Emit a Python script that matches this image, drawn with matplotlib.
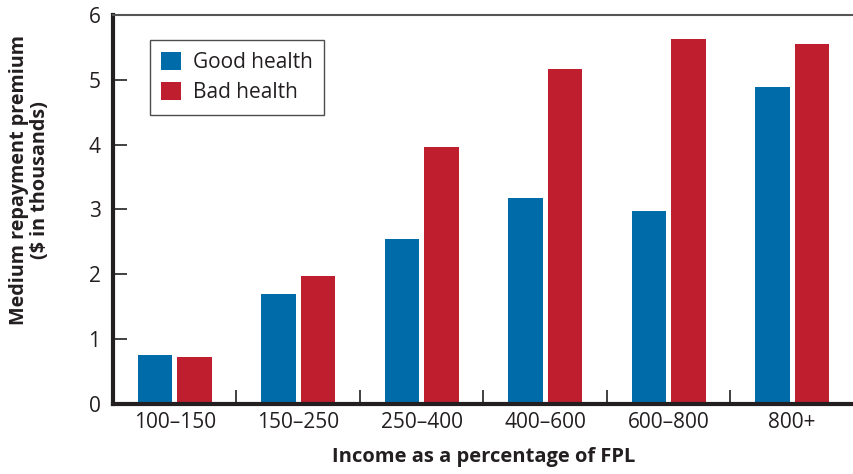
import numpy as np
import matplotlib
matplotlib.use("Agg")
import matplotlib.pyplot as plt
from matplotlib.ticker import FixedLocator

plt.rcParams['font.family'] = ['Open Sans', 'DejaVu Sans']

categories = ["100–150", "150–250", "250–400", "400–600", "600–800", "800+"]
good_health = [0.76, 1.70, 2.55, 3.18, 2.98, 4.89]
bad_health = [0.73, 1.98, 3.97, 5.17, 5.63, 5.56]

blue = "#006ba9"
red = "#be1e2d"
ink = "#231f20"

fig = plt.figure(figsize=(8.54, 4.74), dpi=100)
ax = fig.add_axes([0.1323, 0.1477, 0.8677, 0.8207])

x = np.arange(len(categories))
w = 0.28
ax.bar(x - 0.16, good_health, width=w, color=blue, label="Good health")
ax.bar(x + 0.16, bad_health, width=w, color=red, label="Bad health")

ax.set_xlim(-0.5, len(categories) - 0.5)
ax.set_ylim(0, 6)
ax.set_yticks(range(7))
ax.set_xticks(x)
ax.set_xticklabels(categories, fontsize=15, color=ink)
ax.tick_params(axis="x", length=0, pad=6)
ax.xaxis.set_minor_locator(FixedLocator(np.arange(0.5, len(categories) - 0.5, 1)))
ax.tick_params(axis="x", which="minor", direction="in", length=10, width=1.2, color=ink)
ax.tick_params(axis="y", direction="in", length=10, width=1.2, color=ink,
               labelsize=15, labelcolor=ink, pad=9)

for side in ("left", "bottom"):
    ax.spines[side].set_linewidth(3)
    ax.spines[side].set_color(ink)
ax.spines["top"].set_linewidth(1.5)
ax.spines["top"].set_color("#555555")
ax.spines["right"].set_visible(False)

ax.set_xlabel("Income as a percentage of FPL", fontsize=14.5, fontweight="bold",
              color=ink, labelpad=10)
ax.set_ylabel("Medium repayment premium\n($ in thousands)", fontsize=14.2,
              fontweight="bold", color=ink, linespacing=1.05)
# label sits a little above the middle of the axis
ax.yaxis.set_label_coords(-0.085, 0.575)

leg = ax.legend(loc="upper left", bbox_to_anchor=(0.05, 0.935), fontsize=15,
                frameon=True, fancybox=False, handlelength=0.95, handleheight=0.95,
                handletextpad=0.55, borderpad=0.55, labelspacing=0.45,
                borderaxespad=0)
leg.get_frame().set_edgecolor(ink)
leg.get_frame().set_linewidth(1)
for t in leg.get_texts():
    t.set_color(ink)

fig.savefig("out.png", dpi=100)
